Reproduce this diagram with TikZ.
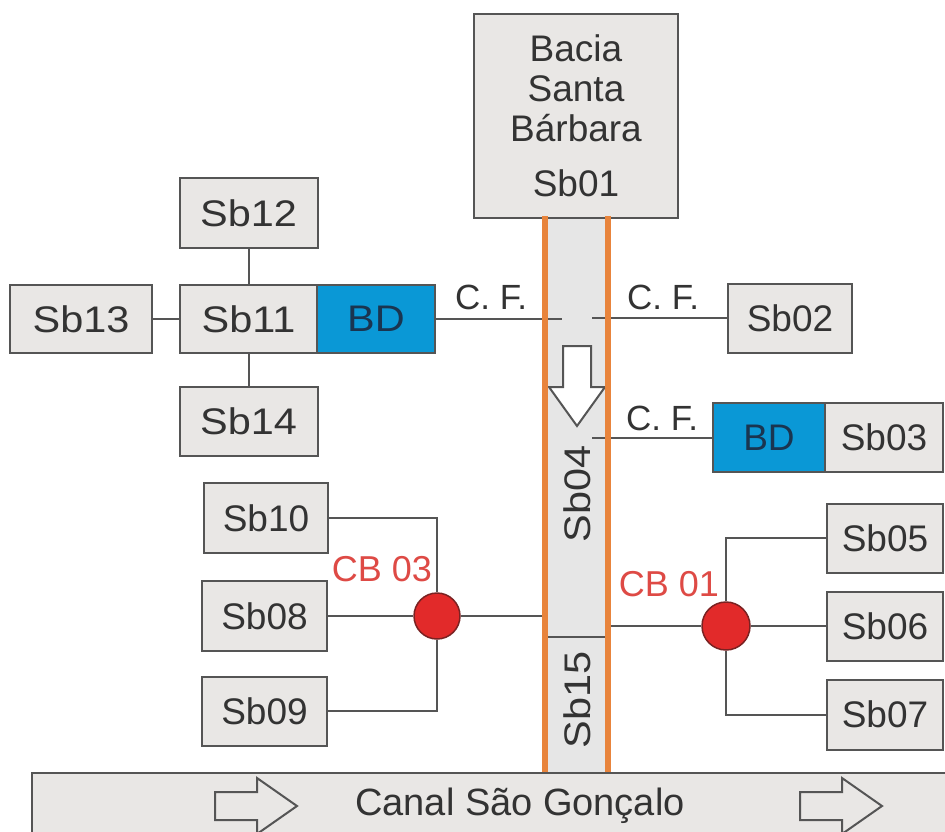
\documentclass[tikz,border=0pt]{standalone}
\usepackage{fontspec}
\setmainfont{Liberation Sans}
\newfontfamily\widefont[FakeStretch=1.12]{Liberation Sans}
\definecolor{boxfill}{HTML}{E9E7E5}
\definecolor{boxline}{HTML}{555555}
\definecolor{textcol}{HTML}{333333}
\definecolor{bdblue}{HTML}{0A98D6}
\definecolor{bdtext}{HTML}{1A3550}
\definecolor{chorange}{HTML}{E8843C}
\definecolor{chfill}{HTML}{E6E6E6}
\definecolor{cbred}{HTML}{E22A2A}
\definecolor{cbborder}{HTML}{7A2222}
\definecolor{cbtext}{HTML}{DE4A45}
\begin{document}
\begin{tikzpicture}[x=1pt,y=-1pt,
  sbbox/.style={draw=boxline, fill=boxfill, line width=2pt, inner sep=0pt, text=textcol, font=\fontsize{37}{40}\selectfont},
  widebox/.style={sbbox, font=\fontsize{37}{40}\widefont},
  bdbox/.style={sbbox, fill=bdblue, text=bdtext},
  conn/.style={draw=boxline, line width=2pt},
  chline/.style={draw=chorange, line width=6pt},
  cbnode/.style={circle, draw=cbborder, fill=cbred, line width=1.5pt, inner sep=0pt},
  cblabel/.style={text=cbtext, font=\fontsize{36}{38}\selectfont, inner sep=0pt},
  cflabel/.style={text=textcol, font=\fontsize{35}{38}\selectfont, inner sep=0pt, anchor=base west},
  arrowshape/.style={draw=boxline, line width=2pt, line join=miter}
]
\clip (0,0) rectangle (945,832);
\fill[white] (0,0) rectangle (945,832);

% channel
\coordinate (chTL) at (545,216);
\coordinate (chBL) at (545,773);
\coordinate (chTR) at (608,216);
\coordinate (chBR) at (608,773);
\fill[chfill] (chTL) rectangle (chBR);

% top box
\node[sbbox, minimum width=204pt, minimum height=204pt, align=center, yshift=-2pt] (sb01) at (576,114) {Bacia\\Santa\\Bárbara\\[15pt]Sb01};

% left cluster
\node[widebox, minimum width=138pt, minimum height=70pt] (sb12) at (248.5,213) {Sb12};
\node[widebox, minimum width=137pt, minimum height=68pt] (sb11) at (248.5,319) {Sb11};
\node[bdbox, font=\fontsize{37}{40}\widefont, minimum width=118pt, minimum height=68pt] (bdL) at (376,319) {BD};
\node[widebox, minimum width=142pt, minimum height=68pt] (sb13) at (81,319) {Sb13};
\node[widebox, minimum width=138pt, minimum height=69pt] (sb14) at (248.5,421.5) {Sb14};

% right upper
\node[sbbox, minimum width=124pt, minimum height=69pt] (sb02) at (790,318) {Sb02};
\node[bdbox, minimum width=112pt, minimum height=69pt] (bdR) at (769,437.5) {BD};
\node[sbbox, minimum width=118pt, minimum height=69pt] (sb03) at (884,437.5) {Sb03};

% left lower cluster
\node[sbbox, minimum width=124pt, minimum height=70pt] (sb10) at (266,518) {Sb10};
\node[sbbox, minimum width=125pt, minimum height=70pt] (sb08) at (264.5,616) {Sb08};
\node[sbbox, minimum width=125pt, minimum height=69pt] (sb09) at (264.5,711) {Sb09};
\node[cbnode, minimum size=46pt] (cb3) at (437,616) {};
\node[cblabel] (cb3lab) at (382,569) {CB 03};

% right lower cluster
\node[sbbox, minimum width=116pt, minimum height=69pt] (sb05) at (885,538) {Sb05};
\node[sbbox, minimum width=116pt, minimum height=69pt] (sb06) at (885,626) {Sb06};
\node[sbbox, minimum width=116pt, minimum height=70pt] (sb07) at (885,714.5) {Sb07};
\node[cbnode, minimum size=48pt] (cb1) at (726,626) {};
\node[cblabel] (cb1lab) at (669,584) {CB 01};

% connectors
\coordinate (cfLend) at (562,319);
\coordinate (cfR1) at (592,318);
\coordinate (cfR2) at (592,437.5);
\coordinate (chL) at (545,616);
\coordinate (chR) at (608,626);
\coordinate (divL) at (545,637);
\coordinate (divR) at (608,637);

\draw[conn] (sb12) -- (sb11);
\draw[conn] (sb11) -- (sb14);
\draw[conn] (sb13) -- (sb11);
\draw[conn] (bdL.east) -- (cfLend);
\draw[conn] (cfR1) -- (sb02.west);
\draw[conn] (cfR2) -- (bdR.west);
\draw[conn] (sb10.east) -| (cb3.north);
\draw[conn] (sb08.east) -- (cb3.west);
\draw[conn] (sb09.east) -| (cb3.south);
\draw[conn] (cb3.east) -- (chL);
\draw[conn] (chR) -- (cb1.west);
\draw[conn] (cb1.north) |- (sb05.west);
\draw[conn] (cb1.east) -- (sb06.west);
\draw[conn] (cb1.south) |- (sb07.west);
\draw[conn] (divL) -- (divR);

\node[cflabel] (cf1) at (455,309) {C. F.};
\node[cflabel] (cf2) at (627,309) {C. F.};
\node[cflabel] (cf3) at (626,430) {C. F.};

% down arrow in channel
\filldraw[arrowshape, fill=white] (563,346) -- (591,346) -- (591,387) -- (605,387) -- (577,426) -- (549,387) -- (563,387) -- cycle;

% channel labels
\node[text=textcol, font=\fontsize{37}{40}\widefont, rotate=90, inner sep=0pt] (sb04) at (577,494) {Sb04};
\node[text=textcol, font=\fontsize{37}{40}\widefont, rotate=90, inner sep=0pt] (sb15) at (577,700) {Sb15};

% orange lines
\draw[chline] (chTL) -- (chBL);
\draw[chline] (chTR) -- (chBR);

% canal
\filldraw[draw=boxline, fill=boxfill, line width=2pt] (32,773) rectangle (980,870);
\draw[arrowshape] (215,792) -- (257,792) -- (257,778) -- (297,806) -- (257,834) -- (257,820) -- (215,820) -- cycle;
\draw[arrowshape] (800,792) -- (842,792) -- (842,778) -- (882,806) -- (842,834) -- (842,820) -- (800,820) -- cycle;
\node[text=textcol, font=\fontsize{38}{40}\selectfont, inner sep=0pt] (canal) at (520,806) {Canal São Gonçalo};
\end{tikzpicture}
\end{document}
